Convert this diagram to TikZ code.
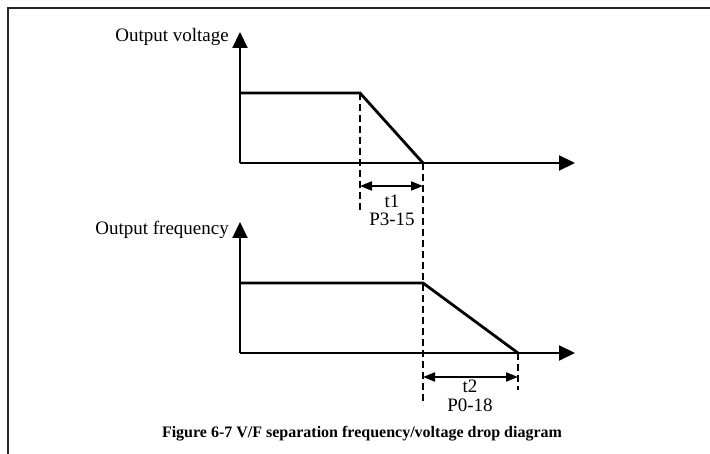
\documentclass[tikz,border=0pt]{standalone}
\usepackage{fontspec}
\setmainfont{Liberation Serif}
\usetikzlibrary{arrows.meta}
\begin{document}
\begin{tikzpicture}[x=1pt,y=-1pt,
  axis/.style={line width=2.2pt,-{Triangle[length=16pt,width=15pt]}},
  curve/.style={line width=2.8pt,line join=miter},
  guide/.style={line width=2pt,dash pattern=on 7pt off 4pt},
  dim/.style={line width=2pt,{Triangle[length=12pt,width=9pt]}-{Triangle[length=12pt,width=9pt]}},
  lbl/.style={inner sep=0pt,font=\fontsize{19}{22}\selectfont},
  captext/.style={inner sep=0pt,font=\fontsize{16}{19}\selectfont\bfseries}]
\useasboundingbox (0,0) rectangle (710,454);
\begin{scope}
\clip (0,0) rectangle (710,454);
\draw[line width=1.6pt,draw=black!85] (8,8) rectangle (730,480);
\end{scope}
% upper graph
\coordinate (o1) at (240,163);
\coordinate (y1) at (240,32);
\coordinate (x1) at (575,163);
\coordinate (v0) at (240,93);
\coordinate (v1) at (360,93);
\coordinate (v2) at (423,163);
\coordinate (d1b) at (360,210);
\coordinate (d2b) at (423,405);
\coordinate (a1) at (360,186);
\coordinate (a2) at (423,186);
\draw[axis] (o1) -- (y1);
\draw[axis] (o1) -- (x1);
\draw[curve] (v0) -- (v1) -- (v2);
\draw[guide] (v1) -- (d1b);
\draw[guide] (v2) -- (d2b);
\draw[dim] (a1) -- (a2);
\node[lbl,anchor=base east] (lv) at (229,42) {Output voltage};
\node[lbl,anchor=base] (t1) at (392,208) {t1};
\node[lbl,anchor=base] (p1) at (392,226) {P3-15};
% lower graph
\coordinate (o2) at (240,353);
\coordinate (y2) at (240,222);
\coordinate (x2) at (575,353);
\coordinate (f0) at (240,283);
\coordinate (f1) at (423,283);
\coordinate (f2) at (518,353);
\coordinate (d3b) at (518,390);
\coordinate (b1) at (423,377);
\coordinate (b2) at (518,377);
\draw[axis] (o2) -- (y2);
\draw[axis] (o2) -- (x2);
\draw[curve] (f0) -- (f1) -- (f2);
\draw[guide] (f2) -- (d3b);
\draw[dim] (b1) -- (b2);
\node[lbl,anchor=base east] (lf) at (229,235) {Output frequency};
\node[lbl,anchor=base] (t2) at (470,393) {t2};
\node[lbl,anchor=base] (p2) at (470,411) {P0-18};
\node[captext,anchor=base] (caption) at (362,438) {Figure 6-7 V/F separation frequency/voltage drop diagram};
\end{tikzpicture}
\end{document}
